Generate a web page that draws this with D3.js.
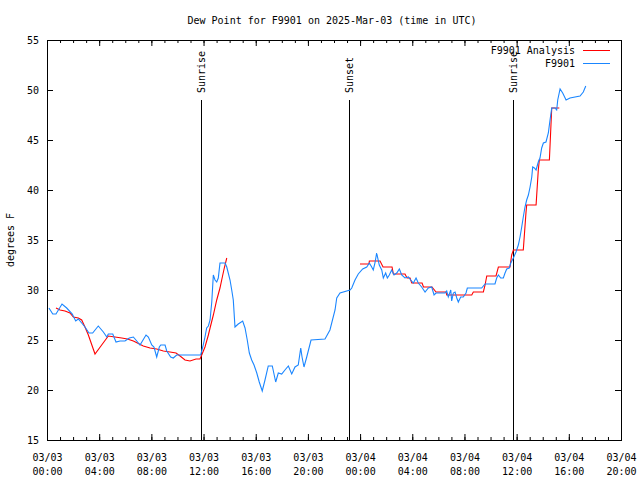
<!DOCTYPE html>
<html><head><meta charset="utf-8">
<script src="https://cdn.jsdelivr.net/npm/d3@7"></script>
<style>
body{margin:0;background:#fff}
svg text{font-family:"DejaVu Sans Mono","Liberation Mono",monospace;font-size:10px;fill:#000}
</style>
</head><body>
<svg id="chart" width="640" height="480"></svg>
<script>
// ---------- data ----------
const titleText = "Dew Point for F9901 on 2025-Mar-03 (time in UTC)";
const yLabel = "degrees F";
const startTime = "2025-03-03T00:00:00Z";
const endTime = "2025-03-04T20:00:00Z";
const yDomain = [15, 55];
const yTicks = [15, 20, 25, 30, 35, 40, 45, 50, 55];
const seriesNames = ["F9901 Analysis", "F9901"];

// observations (hours since start, degrees F)
const obsHours = [0.15,0.44,0.69,1.15,1.51,1.94,2.20,2.40,2.66,2.91,
3.22,3.50,3.93,4.32,4.58,4.70,5.04,5.29,5.60,5.98,
6.31,6.62,6.88,7.13,7.59,7.77,8.03,8.20,8.41,8.61,
8.72,9.05,9.18,9.48,9.68,9.94,11.78,11.94,12.11,12.24,
12.37,12.50,12.63,12.75,12.88,13.01,13.13,13.26,13.65,13.78,
14.03,14.16,14.28,14.41,14.66,15.00,15.18,15.35,15.51,15.69,
15.87,16.08,16.27,16.50,16.71,16.96,17.27,17.53,17.73,17.99,
18.24,18.50,18.76,19.01,19.26,19.45,19.55,19.70,19.91,20.24,
21.31,21.69,22.08,22.21,22.46,23.23,23.36,23.61,23.86,24.20,
24.51,24.71,24.89,25.01,25.14,25.27,25.47,25.66,25.78,25.96,
26.09,26.24,26.42,26.60,26.81,27.01,27.19,27.44,27.70,27.88,
28.08,28.29,28.46,28.72,28.98,29.23,29.49,29.67,29.82,30.51,
30.64,30.76,30.95,31.02,31.15,31.28,31.41,31.53,31.71,31.91,
32.12,32.22,33.32,33.58,34.34,34.47,34.60,34.78,34.98,35.11,
35.24,35.44,35.55,35.75,35.95,36.13,36.26,36.39,36.51,36.64,
36.77,36.90,37.03,37.16,37.23,37.36,37.49,37.66,37.79,37.92,
38.05,38.25,38.43,38.56,38.69,38.94,39.07,39.15,39.33,39.53,
39.79,40.09,40.86,41.11,41.30];
const obsValues = [28.2,27.6,27.6,28.6,28.2,27.6,26.9,27.1,26.7,26.3,
25.7,25.7,26.4,25.8,25.3,25.6,25.6,24.8,24.9,24.9,
25.2,25.3,24.9,24.5,25.5,25.3,24.5,24.3,23.3,24.3,
24.5,24.5,23.9,23.3,23.2,23.5,23.5,24.3,25.3,26.2,
26.4,27.0,28.8,31.5,31.0,30.8,31.2,32.7,32.7,32.3,
31.0,30.0,29.0,26.3,26.6,26.9,26.2,25.0,23.7,23.0,
22.5,21.7,20.8,19.9,21.0,22.4,22.4,20.8,21.7,21.6,
22.0,22.4,21.6,22.3,22.5,24.2,23.3,22.3,23.3,25.0,
25.1,26.0,28.0,29.2,29.7,30.0,30.2,31.0,31.6,32.1,
32.3,32.7,32.3,32.0,32.7,33.7,32.5,32.0,31.2,31.7,
31.2,31.5,32.0,31.5,31.7,32.1,31.5,31.2,31.3,31.0,
30.7,31.2,30.7,30.3,29.8,30.2,30.3,29.5,29.7,29.7,
29.9,29.3,30.0,28.9,29.7,29.8,29.2,28.8,29.3,29.3,
29.7,30.2,30.2,30.6,30.6,31.2,31.5,31.2,31.2,31.7,
32.1,32.2,32.7,33.2,33.8,34.5,35.3,36.3,37.3,38.3,
39.0,39.5,40.3,41.3,42.3,42.2,42.0,42.8,43.2,44.2,
44.7,44.8,45.7,47.0,48.2,48.2,48.0,49.0,50.1,49.7,
49.0,49.2,49.4,49.8,50.4];

// analysis (hours since start, degrees F); null = gap
const anaHours = [0.69,1.00,1.38,1.76,2.02,2.40,2.66,2.91,3.17,3.68,
4.19,4.70,5.21,5.73,6.16,6.62,7.08,7.38,7.90,8.41,
8.92,9.43,9.89,10.20,10.58,10.96,11.42,11.73,11.86,12.11,
12.37,12.50,12.75,13.01,13.26,13.44,13.59,13.78,
18.00,
23.99,24.68,24.71,25.53,25.76,26.45,26.55,27.44,27.60,27.83,
27.96,28.75,28.86,29.51,29.82,30.59,30.64,32.56,32.68,33.45,
33.58,33.71,34.42,34.60,35.49,35.62,35.75,36.51,36.72,36.77,
37.49,37.66,37.74,38.51,38.69,39.27];
const anaValues = [28.2,28.0,27.9,27.7,27.3,27.2,27.0,26.3,25.5,23.6,
24.5,25.4,25.3,25.2,25.1,24.9,24.6,24.4,24.2,24.1,
23.9,23.8,23.7,23.4,23.0,22.9,23.1,23.1,23.5,24.3,
25.5,26.2,27.5,29.0,30.2,31.3,32.2,33.2,
null,
32.6,32.6,32.9,32.9,32.3,32.3,31.6,31.6,31.2,31.2,
30.7,30.7,30.3,30.3,29.8,29.8,29.5,29.5,29.8,29.8,
30.5,31.4,31.4,32.3,32.3,33.5,34.0,34.0,37.8,38.5,
38.5,42.0,43.0,43.0,48.2,48.2];

const eventNames = ["Sunrise", "Sunset", "Sunrise"];
const eventHours = [11.77, 23.17, 35.74];

// ---------- chart ----------
const L = 47, R = 621, T = 40, B = 440;
const t0 = new Date(startTime).getTime();
const toDate = h => new Date(t0 + h * 3600e3);

const svg = d3.select("#chart");
const x = d3.scaleUtc().domain([new Date(startTime), new Date(endTime)]).range([L, R]);
const y = d3.scaleLinear().domain(yDomain).range([B, T]);

const majorTicks = x.ticks(d3.utcHour.every(4));
const minorTicks = x.ticks(d3.utcHour.every(1));
const fmtDate = d3.utcFormat("%m/%d"), fmtTime = d3.utcFormat("%H:%M");

// minor ticks bottom/top
svg.append("g").attr("transform", `translate(0,${B})`)
  .call(d3.axisBottom(x).tickValues(minorTicks).tickSizeInner(-3).tickSizeOuter(0).tickFormat(""))
  .call(g => g.select(".domain").remove());
svg.append("g").attr("transform", `translate(0,${T})`)
  .call(d3.axisTop(x).tickValues(minorTicks).tickSizeInner(-3).tickSizeOuter(0).tickFormat(""))
  .call(g => g.select(".domain").remove());

// major ticks bottom with labels
const xb = svg.append("g").attr("transform", `translate(0,${B})`)
  .call(d3.axisBottom(x).tickValues(majorTicks).tickSizeInner(-6).tickSizeOuter(0).tickFormat(""))
  .call(g => g.select(".domain").remove());
xb.selectAll(".tick text").remove();
xb.selectAll(".tick").each(function(d) {
  const t = d3.select(this).append("text").attr("text-anchor", "middle")
    .attr("font-family", "DejaVu Sans Mono, monospace").attr("font-size", 10).attr("fill", "#000");
  t.append("tspan").attr("x", 0).attr("y", 21).text(fmtDate(d));
  t.append("tspan").attr("x", 0).attr("y", 35).text(fmtTime(d));
});
svg.append("g").attr("transform", `translate(0,${T})`)
  .call(d3.axisTop(x).tickValues(majorTicks).tickSizeInner(-6).tickSizeOuter(0).tickFormat(""))
  .call(g => g.select(".domain").remove());

// y axes
const yl = svg.append("g").attr("transform", `translate(${L},0)`)
  .call(d3.axisLeft(y).tickValues(yTicks).tickSizeInner(-6).tickSizeOuter(0).tickPadding(8).tickFormat(d3.format("d")))
  .call(g => g.select(".domain").remove());
yl.selectAll("text").attr("font-family", "DejaVu Sans Mono, monospace").attr("font-size", 11).attr("fill", "#000");
svg.append("g").attr("transform", `translate(${R},0)`)
  .call(d3.axisRight(y).tickValues(yTicks).tickSizeInner(-6).tickSizeOuter(0).tickFormat(""))
  .call(g => g.select(".domain").remove());

svg.selectAll(".tick line").attr("stroke", "#000");

// frame
svg.append("rect").attr("x", L + 0.5).attr("y", T + 0.5).attr("width", R - L).attr("height", B - T)
  .attr("fill", "none").attr("stroke", "#000").attr("stroke-width", 1).attr("shape-rendering", "crispEdges");

// event lines
const ev = svg.append("g");
eventHours.forEach((h, i) => {
  const px = Math.round(x(toDate(h))) + 0.5;
  ev.append("line").attr("x1", px).attr("x2", px).attr("y1", 100).attr("y2", B)
    .attr("stroke", "#000").attr("stroke-width", 1).attr("shape-rendering", "crispEdges");
  ev.append("text").attr("transform", `translate(${px + 3.5},93) rotate(-90)`)
    .attr("text-anchor", "start").text(eventNames[i]);
});

// lines
const line = d3.line().defined(d => d.v != null).x(d => x(toDate(d.h))).y(d => y(d.v));
const anaData = anaHours.map((h, i) => ({h, v: anaValues[i]}));
const obsData = obsHours.map((h, i) => ({h, v: obsValues[i]}));
svg.append("path").datum(anaData).attr("d", line).attr("fill", "none").attr("stroke", "#ff0000").attr("stroke-width", 1.1);
svg.append("path").datum(obsData).attr("d", line).attr("fill", "none").attr("stroke", "#1a86ff").attr("stroke-width", 1.1);

// legend
const legColors = ["#ff0000", "#1a86ff"];
seriesNames.forEach((n, i) => {
  const ly = 50 + i * 13;
  svg.append("text").attr("x", 575).attr("y", ly).attr("dy", "0.35em").attr("text-anchor", "end").text(n);
  svg.append("line").attr("x1", 583).attr("x2", 610).attr("y1", ly + 0.5).attr("y2", ly + 0.5)
    .attr("stroke", legColors[i]).attr("stroke-width", 1);
});

// title and y label
svg.append("text").attr("x", 332).attr("y", 20).attr("dy", "0.35em").attr("text-anchor", "middle").text(titleText);
svg.append("text").attr("transform", `translate(14,240) rotate(-90)`).attr("text-anchor", "middle").text(yLabel);
</script>
</body></html>
